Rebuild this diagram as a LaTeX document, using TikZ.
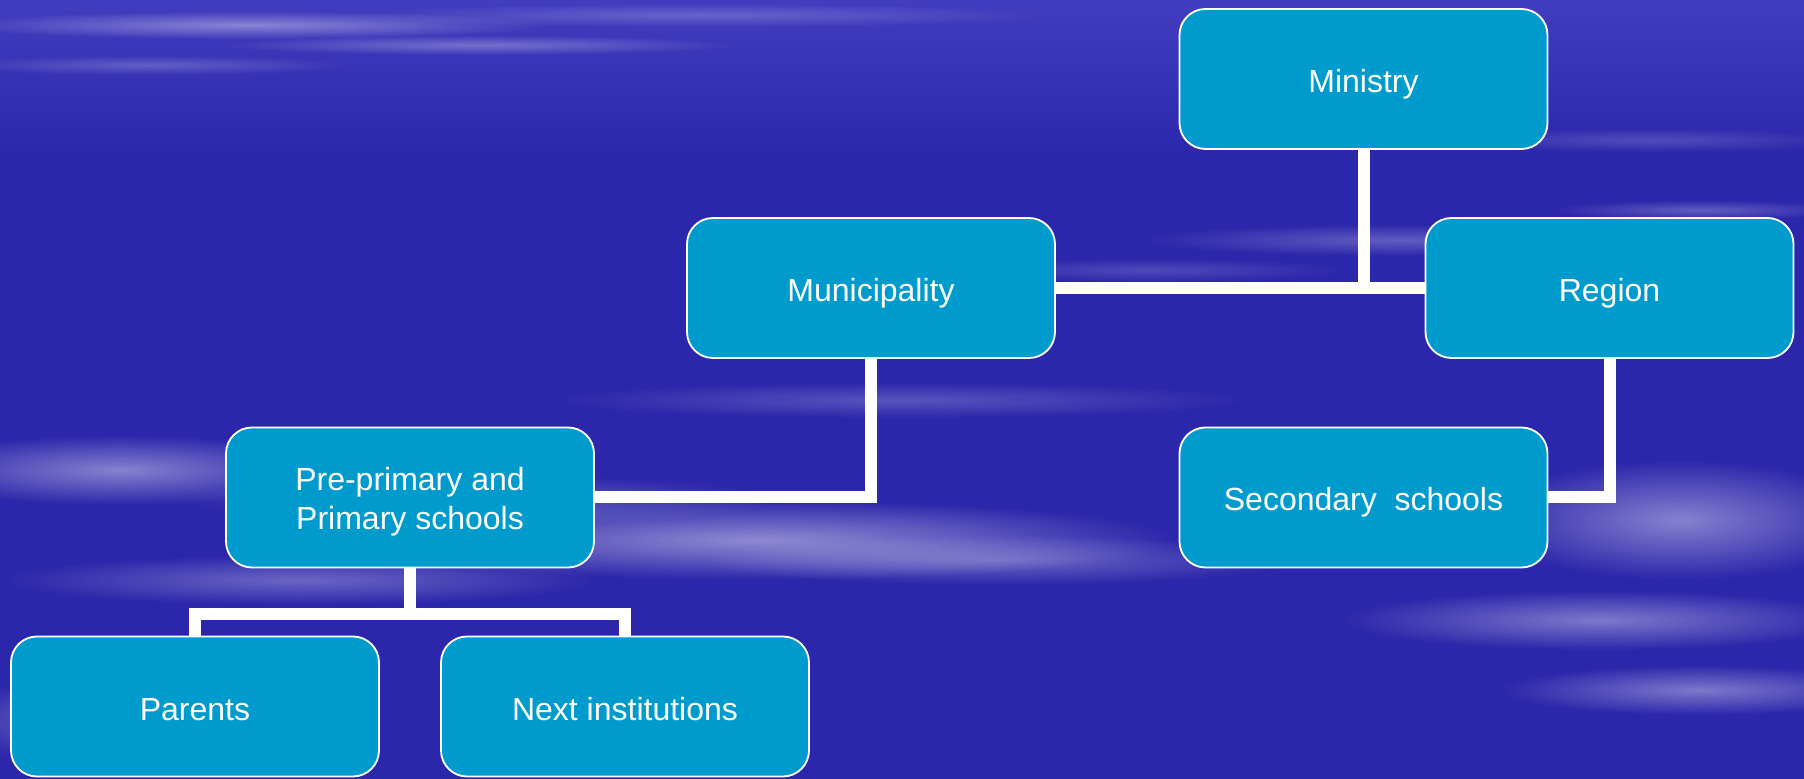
\documentclass[tikz,border=0pt]{standalone}
\usepackage{fontspec}
\setmainfont{Liberation Sans}
\usetikzlibrary{fadings}
\definecolor{slide}{RGB}{44,38,170}
\definecolor{slidetop}{RGB}{66,60,190}
\definecolor{boxfill}{RGB}{0,155,205}
\tikzfading[name=soft, inner color=transparent!15, outer color=transparent!100]
\tikzset{
	unit/.style={draw=white, line width=0.9pt, fill=boxfill, rounded corners=13pt,
		minimum width=184pt, minimum height=70pt, inner sep=2pt, align=center,
		text=white, font=\fontsize{16}{19.5}\selectfont, text height=13.5pt, text depth=0pt},
	twoline/.style={text height={}, text depth={}},
	link/.style={draw=white, line width=6pt},
	streak/.style={fill=white, path fading=soft}
}

\begin{document}
\begin{tikzpicture}[x=0.5pt, y=-0.5pt]

	\fill[slide] (0,0) rectangle (1804,779);
	\useasboundingbox (0,0) rectangle (1804,779);
	\shade[top color=slidetop, bottom color=slide] (0,0) rectangle (1804,160);
	\foreach \cx/\cy/\rx/\ry/\op in {250/25/300/14/0.45, 480/45/260/10/0.35, 150/65/200/10/0.25,
		700/15/350/12/0.25, 1650/140/200/12/0.2, 1400/240/260/16/0.3, 1700/210/150/10/0.3,
		1150/270/200/12/0.2, 120/470/220/35/0.5, 760/540/420/40/0.55, 480/500/300/25/0.3,
		1000/560/300/25/0.35, 300/580/300/25/0.35, 900/400/350/18/0.25, 1680/520/200/60/0.5,
		1600/620/260/30/0.45, 1700/690/200/25/0.45, 60/720/120/40/0.3}
	{
		\fill[streak, opacity=\op] (\cx,\cy) ellipse [x radius=\rx, y radius=\ry];
	}

	\node[unit] (ministry) at (1363.5,79) {Ministry};
	\node[unit] (municipality) at (871,288) {Municipality};
	\node[unit] (region) at (1609.5,288) {Region};
	\node[unit, twoline] (preprimary) at (410,497.5) {\rule{0pt}{16.3pt}Pre-primary and\\Primary schools};
	\node[unit] (secondary) at (1363.5,497.5) {Secondary~~schools};
	\node[unit] (parents) at (195,706.5) {Parents};
	\node[unit] (next) at (625,706.5) {Next institutions};
	\coordinate (fork) at (410,614);

	\draw[link] (ministry.south) -- (ministry.south |- municipality.east);
	\draw[link] (municipality.east) -- (region.west);
	\draw[link] (municipality.south) |- (preprimary.east);
	\draw[link] (region.south) |- (secondary.east);
	\draw[link] (preprimary.south) -- (fork);
	\draw[link] (parents.north) |- (fork) -| (next.north);
\end{tikzpicture}
\end{document}
